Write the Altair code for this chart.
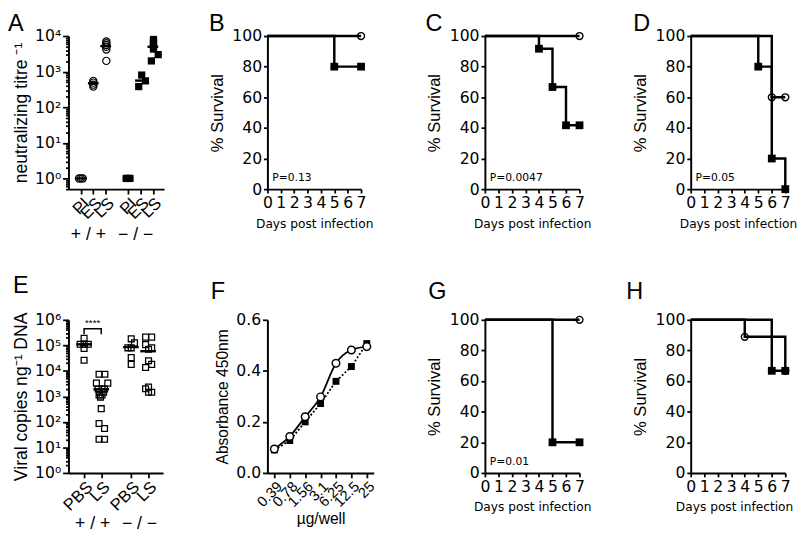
import altair as alt
import pandas as pd

NUM_FONT = "DejaVu Sans"
TXT_FONT = "Liberation Sans"
SMALL_FONT = "DejaVu Sans"

# ---------------- Panel A : neutralizing titre ----------------
a_cat_pos = [1, 2, 3, 4.8, 5.8, 6.8]
a_cat_lab = ["PI", "ES", "LS", "PI", "ES", "LS"]
a_grp_pos = [2, 5.8]
a_grp_lab = ["+ / +", "\u2212 / \u2212"]
a_wt_x = [0.85, 1.0, 1.15, 2.0, 2.0, 2.0, 2.0, 3.05, 3.05, 3.05, 3.05, 3.05, 3.05]
a_wt_y = [1, 1, 1, 550, 490, 430, 380, 7000, 6300, 5600, 5000, 4200, 2000]
a_ko_x = [4.65, 4.8, 4.95, 5.66, 5.9, 6.2, 6.68, 6.85, 6.85, 6.85, 6.85, 6.85, 7.23]
a_ko_y = [1, 1, 1, 380, 800, 550, 2000, 8000, 7000, 6000, 5000, 4300, 3000]
a_mean_x = [1, 2, 3, 4.8, 5.8, 6.8]
a_mean_y = [1, 470, 5200, 1, 560, 5000]

# ---------------- Panel E : viral copies ----------------
e_cat_pos = [1, 2.1, 4, 5.1]
e_cat_lab = ["PBS", "LS", "PBS", "LS"]
e_grp_pos = [1.55, 4.55]
e_grp_lab = ["+ / +", "\u2212 / \u2212"]
e_x = [1.0, 0.75, 1.0, 1.27, 1.0, 1.0,
       1.96, 2.33, 1.79, 2.52, 1.9, 2.15, 2.31, 2.0, 2.25, 1.96, 2.15, 2.05, 2.1, 1.96, 2.31, 1.96, 2.31,
       4.02, 4.23, 3.81, 4.02, 4.02, 4.02,
       4.94, 5.33, 4.94, 5.33, 5.13, 5.13, 5.33, 4.94, 5.13, 4.94, 5.13, 5.33]
e_y = [1.9e5, 1.1e5, 1.1e5, 1.1e5, 7.5e4, 2.6e4,
       7.4e3, 7.4e3, 3.3e3, 3.3e3, 1.95e3, 2.0e3, 1.95e3, 1.45e3, 1.45e3, 1.15e3, 1.15e3, 940, 330, 87, 55, 21, 21,
       1.8e5, 1.25e5, 8e4, 8e4, 3.3e4, 1.8e4,
       2.1e5, 2.1e5, 1.07e5, 8e4, 7e4, 2.5e4, 1.8e4, 1.35e4, 2.3e3, 2.0e3, 1.45e3, 1.45e3]
e_mean_x = [1, 2.1, 4, 5.1]
e_mean_y = [1.1e5, 1.9e3, 8.5e4, 5.9e4]
e_bracket_x = [1, 1, 2.1, 2.1]
e_bracket_y = [2.7e5, 4.5e5, 4.5e5, 2.7e5]
e_sig_text = "****"

# ---------------- Panel F : absorbance ----------------
f_pos = [1, 2, 3, 4, 5, 6, 7]
f_lab = ["0.39", "0.78", "1.56", "3.1", "6.25", "12.5", "25"]
f_open = [0.094, 0.143, 0.22, 0.298, 0.43, 0.482, 0.495]
f_fill = [0.09, 0.127, 0.2, 0.272, 0.359, 0.417, 0.507]

# ---------------- Survival panels ----------------
surv = {
    "B": dict(sq_d=[0, 5, 7], sq_s=[100, 80, 80], ci_d=[0, 7], ci_s=[100, 100], p="P=0.13"),
    "C": dict(sq_d=[0, 4, 5, 6, 7], sq_s=[100, 91.7, 66.7, 41.7, 41.7], ci_d=[0, 7], ci_s=[100, 100], p="P=0.0047"),
    "D": dict(sq_d=[0, 5, 6, 7], sq_s=[100, 80, 20, 0], ci_d=[0, 6, 7], ci_s=[100, 60, 60], p="P=0.05"),
    "G": dict(sq_d=[0, 5, 7], sq_s=[100, 20, 20], ci_d=[0, 7], ci_s=[100, 100], p="P=0.01"),
    "H": dict(sq_d=[0, 6, 7], sq_s=[100, 66.7, 66.7], ci_d=[0, 4, 7], ci_s=[100, 88.9, 66.7], p=None),
}
days = [0, 1, 2, 3, 4, 5, 6, 7]
surv_ticks = [0, 20, 40, 60, 80, 100]

SUP = str.maketrans("0123456789-", "\u2070\u00b9\u00b2\u00b3\u2074\u2075\u2076\u2077\u2078\u2079\u207b")


def log_axis_vals(lo_mult_exp, hi_exp, lo_val):
    vals = []
    for k in range(lo_mult_exp, hi_exp):
        for m in range(1, 10):
            v = round(m * 10 ** k, 6)
            if v >= lo_val:
                vals.append(v)
    vals.append(10 ** hi_exp)
    return vals


def decade_expr(hi_exp):
    parts = []
    for k in range(0, hi_exp + 1):
        parts.append(f"datum.value=={10**k}?'10{str(k).translate(SUP)}'")
    return ":".join(parts) + ":''"


def decade_test(hi_exp):
    return "indexof([" + ",".join(str(10 ** k) for k in range(0, hi_exp + 1)) + "], datum.value) >= 0"


def cat_expr(pos, lab):
    return ":".join(f"datum.value=={p}?'{l}'" for p, l in zip(pos, lab)) + ":''"


def letter_layer(letter, dx, dy):
    return alt.Chart(pd.DataFrame({"t": [letter]})).mark_text(
        align="left", baseline="alphabetic", font=TXT_FONT, fontSize=24, color="black").encode(
        x=alt.value(dx), y=alt.value(dy), text="t:N")


def spacer(w, h):
    return alt.Chart(pd.DataFrame({"v": [0]})).mark_point(opacity=0).encode(
        x=alt.X("v:Q", axis=None), y=alt.Y("v:Q", axis=None)).properties(width=w, height=h)


def surv_panel(letter, d, w, h, tdx, tdy, xtitle_shift=0):
    sq = pd.DataFrame({"day": d["sq_d"], "surv": d["sq_s"], "grp": "sq", "i": range(len(d["sq_d"]))})
    ci = pd.DataFrame({"day": d["ci_d"], "surv": d["ci_s"], "grp": "ci", "i": range(len(d["ci_d"]))})
    allp = pd.concat([ci, sq], ignore_index=True)
    xenc = alt.X("day:Q", scale=alt.Scale(domain=[0, 7], nice=False, zero=False),
                 axis=alt.Axis(values=days, title="Days post infection", labelFont=NUM_FONT,
                               labelFontSize=16, tickSize=4, labelPadding=2, labelOverlap=False,
                               labelFlush=False, titleFont=SMALL_FONT, titleFontSize=12.5,
                               titlePadding=7, titleX=w / 2 + xtitle_shift))
    yenc = alt.Y("surv:Q", scale=alt.Scale(domain=[0, 100], nice=False),
                 axis=alt.Axis(values=surv_ticks, title="% Survival", labelFont=NUM_FONT,
                               labelFontSize=16, tickSize=4, labelPadding=2, labelOverlap=False,
                               labelFlush=False, titleFont=TXT_FONT, titleFontSize=17, titlePadding=6))
    lines = alt.Chart(allp).mark_line(interpolate="step-after", color="black", strokeWidth=2.5).encode(
        x=xenc, y=yenc, detail="grp:N", order="i:Q")
    circ = alt.Chart(ci.iloc[1:]).mark_point(shape="circle", filled=False, color="black", size=50,
                                              strokeWidth=1.4, opacity=1).encode(x=xenc, y=yenc)
    sqr = alt.Chart(sq.iloc[1:]).mark_point(shape="square", filled=True, color="black", size=64,
                                             opacity=1).encode(x=xenc, y=yenc)
    layers = [lines, circ, sqr]
    if d["p"]:
        ptxt = alt.Chart(pd.DataFrame({"t": [d["p"]]})).mark_text(
            align="left", baseline="alphabetic", font=SMALL_FONT, fontSize=11, color="black").encode(
            x=alt.value(5), y=alt.value(h - 8), text="t:N")
        layers.append(ptxt)
    layers.append(letter_layer(letter, tdx, tdy))
    return alt.layer(*layers).properties(width=w, height=h)


H1 = 157
H2 = 157

# ---------- Panel A ----------
a_pts_wt = pd.DataFrame({"x": a_wt_x, "y": a_wt_y})
a_pts_ko = pd.DataFrame({"x": a_ko_x, "y": a_ko_y})
a_means = pd.DataFrame({"x": a_mean_x, "y": a_mean_y})
a_grp = pd.DataFrame({"x": a_grp_pos, "t": a_grp_lab})
ax_x = alt.X("x:Q", scale=alt.Scale(domain=[0, 7.7], nice=False, zero=False),
             axis=alt.Axis(values=a_cat_pos, labelExpr=cat_expr(a_cat_pos, a_cat_lab), labelAngle=-45,
                           labelFont=TXT_FONT, labelFontSize=17, tickSize=5, labelPadding=1,
                           labelOverlap=False, labelFlush=False, title=None))
ax_y = alt.Y("y:Q", scale=alt.Scale(type="log", domain=[0.5, 10000], nice=False),
             axis=alt.Axis(values=log_axis_vals(-1, 4, 0.5), labelExpr=decade_expr(4),
                           tickSize={"condition": {"test": decade_test(4), "value": 6}, "value": 3},
                           labelFont=NUM_FONT, labelFontSize=16, labelPadding=2, labelOverlap=False,
                           labelFlush=False,
                           title="neutralizing titre \u207b\u00b9", titleFont=TXT_FONT, titleFontSize=18,
                           titlePadding=4))
panelA = alt.layer(
    alt.Chart(a_means).mark_tick(orient="horizontal", size=11, thickness=2.5, color="black", opacity=1).encode(x=ax_x, y=ax_y),
    alt.Chart(a_pts_wt).mark_point(shape="circle", filled=False, color="black", size=55, strokeWidth=1.2, opacity=1).encode(x=ax_x, y=ax_y),
    alt.Chart(a_pts_ko).mark_point(shape="square", filled=True, color="black", size=55, opacity=1).encode(x=ax_x, y=ax_y),
    alt.Chart(a_grp).mark_text(font=TXT_FONT, fontSize=18, color="black", dx=-5).encode(
        x=ax_x, y=alt.value(H1 + 47), text="t:N"),
    letter_layer("A", -62, -5),
).properties(width=98, height=H1)

# ---------- Panel E ----------
e_pts = pd.DataFrame({"x": e_x, "y": e_y})
e_means = pd.DataFrame({"x": e_mean_x, "y": e_mean_y})
e_br = pd.DataFrame({"x": e_bracket_x, "y": e_bracket_y, "i": range(4)})
e_grp = pd.DataFrame({"x": e_grp_pos, "t": e_grp_lab})
e_sig = pd.DataFrame({"x": [sum(e_bracket_x) / 4], "y": [max(e_bracket_y)], "t": [e_sig_text]})
ex = alt.X("x:Q", scale=alt.Scale(domain=[0, 6.06], nice=False, zero=False),
           axis=alt.Axis(values=e_cat_pos, labelExpr=cat_expr(e_cat_pos, e_cat_lab), labelAngle=-45,
                         labelFont=TXT_FONT, labelFontSize=17, tickSize=5, labelPadding=1,
                         labelOverlap=False, labelFlush=False, title=None))
ey = alt.Y("y:Q", scale=alt.Scale(type="log", domain=[1, 1e6], nice=False),
           axis=alt.Axis(values=log_axis_vals(0, 6, 1), labelExpr=decade_expr(6),
                         tickSize={"condition": {"test": decade_test(6), "value": 6}, "value": 3},
                         labelFont=NUM_FONT, labelFontSize=16, labelPadding=2, labelOverlap=False,
                         labelFlush=False,
                         title="Viral copies ng\u207b\u00b9 DNA", titleFont=TXT_FONT, titleFontSize=18,
                         titlePadding=4))
panelE = alt.layer(
    alt.Chart(e_means).mark_tick(orient="horizontal", size=16, thickness=2.5, color="black", opacity=1).encode(x=ex, y=ey),
    alt.Chart(e_pts).mark_point(shape="square", filled=False, color="black", size=36, strokeWidth=1.3, opacity=1).encode(x=ex, y=ey),
    alt.Chart(e_br).mark_line(color="black", strokeWidth=1.5).encode(x=ex, y=ey, order="i:Q"),
    alt.Chart(e_sig).mark_text(font=TXT_FONT, fontSize=10, color="black", baseline="bottom", dy=-1).encode(
        x=ex, y=ey, text="t:N"),
    alt.Chart(e_grp).mark_text(font=TXT_FONT, fontSize=18, color="black").encode(
        x=ex, y=alt.value(H2 + 52), text="t:N"),
    letter_layer("E", -57, -28),
).properties(width=97, height=H2)

# ---------- Panel F ----------
f_df = pd.DataFrame({"x": f_pos * 2, "y": f_open + f_fill,
                     "g": ["open"] * 7 + ["fill"] * 7})
fx = alt.X("x:Q", scale=alt.Scale(domain=[0.55, 7.45], nice=False, zero=False),
           axis=alt.Axis(values=f_pos, labelExpr=cat_expr(f_pos, f_lab), labelAngle=-45,
                         labelFont=TXT_FONT, labelFontSize=15, tickSize=5, labelPadding=1,
                         labelOverlap=False, labelFlush=False,
                         title="\u00b5g/well", titleFont=TXT_FONT, titleFontSize=16, titlePadding=2))
fy = alt.Y("y:Q", scale=alt.Scale(domain=[0, 0.6], nice=False),
           axis=alt.Axis(values=[0, 0.2, 0.4, 0.6], format=".1f", labelFont=NUM_FONT, labelFontSize=16,
                         tickSize=5, labelPadding=2, labelOverlap=False, labelFlush=False,
                         title="Absorbance 450nm", titleFont=TXT_FONT, titleFontSize=16, titlePadding=5))
f_open_df = f_df[f_df.g == "open"]
f_fill_df = f_df[f_df.g == "fill"]
panelF = alt.layer(
    alt.Chart(f_fill_df).mark_line(color="black", strokeWidth=1.8, strokeDash=[2, 2]).encode(x=fx, y=fy),
    alt.Chart(f_open_df).mark_line(color="black", strokeWidth=1.8, interpolate="monotone").encode(x=fx, y=fy),
    alt.Chart(f_fill_df).mark_point(shape="square", filled=True, color="black", size=50, opacity=1).encode(x=fx, y=fy),
    alt.Chart(f_open_df).mark_point(shape="circle", filled=True, fill="white", stroke="black", strokeWidth=1.5,
                                    size=60, opacity=1).encode(x=fx, y=fy),
    letter_layer("F", -58, -21),
).properties(width=109, height=H2)

panelB = surv_panel("B", surv["B"], 96, H1, -60, -5)
panelC = surv_panel("C", surv["C"], 97, H1, -61, -5)
panelD = surv_panel("D", surv["D"], 97, H1, -59, -5)
panelG = surv_panel("G", surv["G"], 97, H2, -58, -21)
panelH = surv_panel("H", surv["H"], 97, H2, -66, -21, xtitle_shift=-4)

row1 = [spacer(62, H1), panelA, spacer(100, H1), panelB, spacer(114, H1), panelC, spacer(114, H1), panelD]
row2 = [spacer(55, H2), panelE, spacer(106, H2), panelF, spacer(108, H2), panelG, spacer(114, H2), panelH]

chart = alt.concat(*row1, *row2, columns=8, spacing={"row": 134, "column": 0},
                   bounds="flush", align="none").properties(
    padding={"top": -2, "left": 0, "right": 0, "bottom": 0}).configure_view(
    stroke=None).configure_axis(grid=False, domainColor="black", domainWidth=2, tickColor="black",
                                tickWidth=1.8, labelColor="black", titleColor="black",
                                titleFontWeight="normal")

chart.save("out.html", embed_options={"renderer": "svg", "actions": False})
